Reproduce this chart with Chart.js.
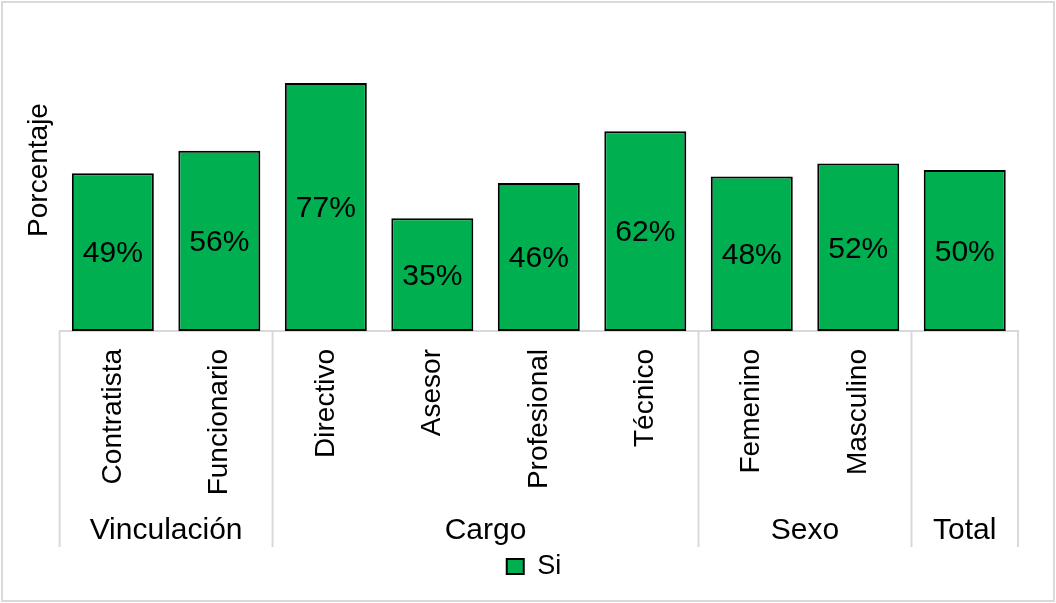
<!DOCTYPE html>
<html>
<head>
    <title>Porcentaje - Si</title>
    <script src="https://cdn.jsdelivr.net/npm/chart.js"></script>
    <style>
        body { margin: 0; background: #fff; }
    </style>
</head>
<body>
    <div id="chart-container" style="width: 1056px; height: 603px;">
        <canvas id="chart"></canvas>
    </div>

    <script>
        // Values
        const categories = ['Contratista', 'Funcionario', 'Directivo', 'Asesor', 'Profesional', 'Técnico', 'Femenino', 'Masculino', ''];
        const siValues = [49, 56, 77, 35, 46, 62, 48, 52, 50];
        const groupNames = ['Vinculación', 'Cargo', 'Sexo', 'Total'];
        const groupSizes = [2, 4, 2, 1];

        const fontFamily = "'Liberation Sans', Arial, sans-serif";

        // White background, light frame, legend nudge
        const frame = {
            id: 'frame',
            afterLayout(chart) {
                chart.legend.left += 16;
                chart.legend.right += 16;
            },
            beforeDraw(chart) {
                const ctx = chart.ctx;
                ctx.save();
                ctx.fillStyle = '#fff';
                ctx.fillRect(0, 0, chart.width, chart.height);
                ctx.strokeStyle = '#d9d9d9';
                ctx.lineWidth = 2;
                ctx.strokeRect(2, 2, chart.width - 4, chart.height - 4);
                ctx.restore();
            }
        };

        // Percent labels in the middle of each bar
        const valueLabels = {
            id: 'valueLabels',
            afterDatasetsDraw(chart) {
                const ctx = chart.ctx;
                const meta = chart.getDatasetMeta(0);
                ctx.save();
                ctx.font = '30px ' + fontFamily;
                ctx.fillStyle = '#000';
                ctx.textAlign = 'center';
                ctx.textBaseline = 'middle';
                meta.data.forEach((bar, i) => {
                    ctx.fillText(siValues[i] + '%', bar.x, (bar.y + bar.base) / 2 + 2);
                });
                ctx.restore();
            }
        };

        // Second level of the category axis: separators + group names
        const groupAxis = {
            id: 'groupAxis',
            afterDraw(chart) {
                const xs = chart.scales.x;
                const ctx = chart.ctx;
                const bottom = 547;
                ctx.save();
                ctx.strokeStyle = '#d9d9d9';
                ctx.lineWidth = 2;
                ctx.font = '30px ' + fontFamily;
                ctx.fillStyle = '#000';
                ctx.textAlign = 'center';
                ctx.textBaseline = 'middle';
                let start = 0;
                groupSizes.forEach((size, g) => {
                    const x0 = xs.getPixelForValue(start - 0.5);
                    const x1 = xs.getPixelForValue(start + size - 0.5);
                    ctx.beginPath();
                    ctx.moveTo(x0, xs.top);
                    ctx.lineTo(x0, bottom);
                    if (g === groupSizes.length - 1) {
                        ctx.moveTo(x1, xs.top);
                        ctx.lineTo(x1, bottom);
                    }
                    ctx.stroke();
                    ctx.fillText(groupNames[g], (x0 + x1) / 2, 531);
                    start += size;
                });
                ctx.restore();
            }
        };

        function createChart() {
            const canvas = document.getElementById('chart');

            new Chart(canvas, {
                type: 'bar',
                data: {
                    labels: categories,
                    datasets: [{
                        label: 'Si',
                        data: siValues,
                        backgroundColor: '#00b050',
                        borderColor: '#000',
                        borderWidth: 2,
                        borderSkipped: false,
                        categoryPercentage: 1,
                        barPercentage: 0.77
                    }]
                },
                options: {
                    responsive: true,
                    maintainAspectRatio: false,
                    animation: false,
                    layout: {
                        padding: { left: 18, right: 38, top: 9, bottom: 13 }
                    },
                    scales: {
                        x: {
                            grid: { display: false, drawTicks: false },
                            border: { display: true, color: '#d9d9d9', width: 2 },
                            ticks: {
                                minRotation: 90,
                                maxRotation: 90,
                                autoSkip: false,
                                padding: 18,
                                color: '#000',
                                font: { family: fontFamily, size: 28 }
                            },
                            afterFit: (scale) => { scale.height = 212; }
                        },
                        y: {
                            min: 0,
                            max: 100,
                            grid: { display: false, drawTicks: false },
                            border: { display: false },
                            ticks: { display: false },
                            title: {
                                display: true,
                                text: 'Porcentaje',
                                color: '#000',
                                font: { family: fontFamily, size: 28 }
                            }
                        }
                    },
                    plugins: {
                        legend: {
                            position: 'bottom',
                            labels: {
                                color: '#000',
                                boxWidth: 17,
                                boxHeight: 15,
                                padding: 10,
                                font: { family: fontFamily, size: 27 }
                            }
                        },
                        tooltip: { enabled: false }
                    }
                },
                plugins: [frame, valueLabels, groupAxis]
            });
        }

        window.addEventListener('DOMContentLoaded', createChart);
    </script>
</body>
</html>
